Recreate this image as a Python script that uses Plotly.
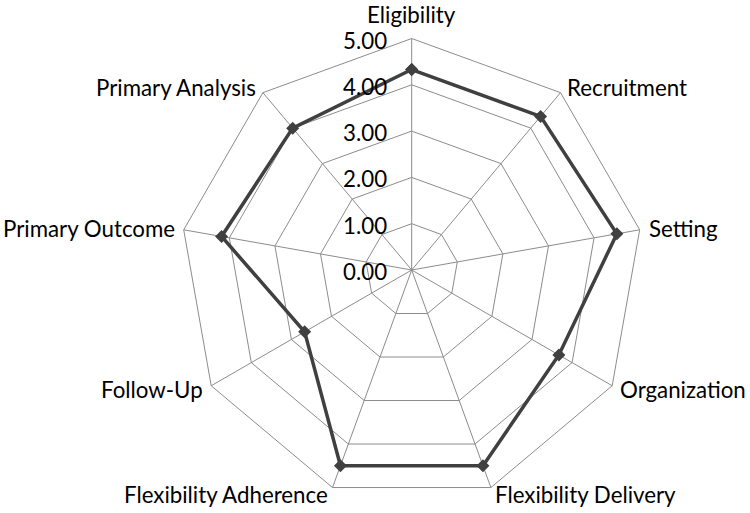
import math
import plotly.graph_objects as go

categories = ["Eligibility", "Recruitment", "Setting", "Organization",
              "Flexibility Delivery", "Flexibility Adherence", "Follow-Up",
              "Primary Outcome", "Primary Analysis"]
values = [4.33, 4.33, 4.50, 3.67, 4.50, 4.50, 2.67, 4.17, 4.00]
radial_ticks = [0, 1, 2, 3, 4, 5]
radial_max = 5

W, H = 750, 513
# polar centre / outer radius in figure pixels
CX, CY, R = 411.7, 270.0, 231.5
LABEL_GAP = 7

font = dict(family="Lato, Open Sans, sans-serif", size=22.3, color="#000000")

fig = go.Figure()
fig.add_trace(go.Scatterpolar(
    r=values + values[:1],
    theta=categories + categories[:1],
    mode="lines+markers",
    line=dict(color="#404040", width=3.5),
    marker=dict(symbol="diamond", size=10, color="#404040"),
    showlegend=False,
))

# category labels placed just outside each spoke, Excel-style
n = len(categories)
for i, cat in enumerate(categories):
    a = math.radians(360.0 * i / n)
    s = math.sin(a)
    if abs(s) < 0.1:
        px, py = CX, CY - R - 24
        xa = "center"
    else:
        px = CX + (R + LABEL_GAP) * s
        py = CY - (R + LABEL_GAP) * math.cos(a)
        xa = "left" if s > 0 else "right"
    fig.add_annotation(x=px / W, y=1 - py / H, xref="paper", yref="paper",
                       text=cat, showarrow=False, xanchor=xa, yanchor="middle",
                       font=font)

# radial value labels to the left of the vertical spoke
for v in radial_ticks:
    py = CY - R * v / radial_max + 1.5
    fig.add_annotation(x=(CX - 23) / W, y=1 - py / H, xref="paper", yref="paper",
                       text=f"{v:.2f}", showarrow=False, xanchor="right",
                       yanchor="middle", font=font)

fig.update_layout(
    width=W, height=H,
    margin=dict(l=0, r=0, t=0, b=0),
    paper_bgcolor="white",
    font=font,
    polar=dict(
        domain=dict(x=[(CX - R) / W, (CX + R) / W],
                    y=[1 - (CY + R) / H, 1 - (CY - R) / H]),
        bgcolor="white",
        gridshape="linear",
        angularaxis=dict(
            rotation=90, direction="clockwise",
            categoryorder="array", categoryarray=categories,
            showline=True, linecolor="#8c8c8c", linewidth=1,
            gridcolor="#8c8c8c", gridwidth=1,
            ticks="", showticklabels=False,
        ),
        radialaxis=dict(
            range=[0, radial_max], tickvals=radial_ticks,
            angle=90, showline=False, showticklabels=False,
            gridcolor="#8c8c8c", gridwidth=1, ticks="",
        ),
    ),
)
fig.write_html("out.html",
               config={"displayModeBar": False},
               post_script="document.body.style.margin='0';document.body.style.padding='0';")
